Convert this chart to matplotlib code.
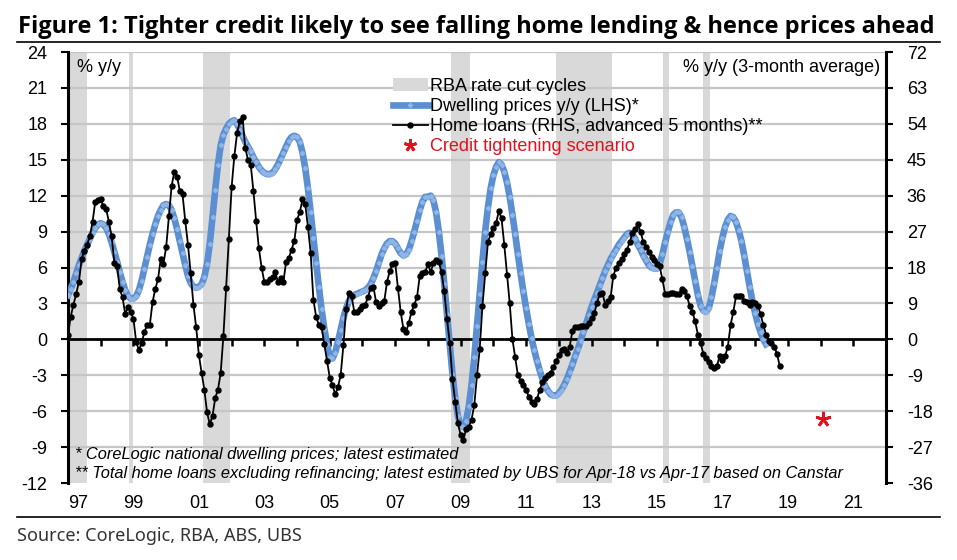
import numpy as np
import matplotlib.pyplot as plt
from matplotlib.lines import Line2D
from matplotlib.patches import Patch

plt.rcParams['font.family'] = ['Liberation Sans', 'DejaVu Sans']
plt.rcParams['axes.unicode_minus'] = False

# CoreLogic dwelling prices, % y/y, monthly from Jan-97 to May-18 (LHS)
dwelling = [
    3.7, 4.2, 4.8, 5.5, 6.2, 6.8, 7.4, 7.9, 8.4, 8.9, 9.3, 9.6,          # 1997
    9.7, 9.6, 9.3, 8.8, 8.1, 7.3, 6.5, 5.6, 4.8, 4.1, 3.6, 3.4,          # 1998
    3.4, 3.6, 4.1, 4.9, 5.9, 6.9, 7.9, 8.8, 9.6, 10.3, 10.8, 11.2,       # 1999
    11.3, 11.2, 10.8, 10.1, 9.2, 8.2, 7.2, 6.2, 5.3, 4.7, 4.4, 4.3,      # 2000
    4.4, 4.6, 5.2, 6.3, 8.0, 10.2, 12.5, 14.6, 16.2, 17.1, 17.6, 18.0,   # 2001
    18.2, 18.3, 18.0, 17.5, 17.0, 16.5, 16.1, 15.7, 15.2, 14.8, 14.4, 14.1,  # 2002
    13.9, 13.8, 13.8, 13.9, 14.2, 14.6, 15.1, 15.6, 16.1, 16.6, 16.9, 17.0,  # 2003
    16.9, 16.5, 15.6, 14.3, 12.6, 10.6, 8.5, 6.4, 4.4, 2.5, 0.9, -0.4,   # 2004
    -1.5, -1.6, -1.1, -0.2, 0.8, 1.8, 2.6, 3.2, 3.5, 3.7, 3.8, 3.9,      # 2005
    4.0, 4.1, 4.3, 4.6, 5.1, 5.7, 6.4, 7.1, 7.6, 8.0, 8.2, 8.2,          # 2006
    8.0, 7.6, 7.2, 7.0, 7.1, 7.5, 8.2, 9.0, 9.9, 10.8, 11.5, 11.9,       # 2007
    11.9, 12.0, 11.6, 10.6, 9.0, 7.0, 4.6, 2.1, -0.5, -2.9, -4.9, -6.4,  # 2008
    -7.2, -7.3, -6.8, -5.6, -3.8, -1.5, 1.1, 3.8, 6.5, 9.0, 11.0, 12.6,  # 2009
    13.7, 14.4, 14.8, 14.6, 14.0, 13.1, 11.9, 10.4, 8.8, 7.1, 5.5, 4.0,  # 2010
    2.6, 1.3, 0.1, -0.9, -1.8, -2.6, -3.3, -3.9, -4.3, -4.6, -4.7, -4.7,  # 2011
    -4.5, -4.2, -3.8, -3.3, -2.7, -2.1, -1.4, -0.8, -0.1, 0.6, 1.3, 2.0,  # 2012
    2.7, 3.3, 3.9, 4.5, 5.1, 5.7, 6.2, 6.7, 7.1, 7.5, 7.9, 8.2,          # 2013
    8.5, 8.8, 8.9, 8.8, 8.4, 7.9, 7.5, 7.0, 6.6, 6.2, 6.0, 5.9,          # 2014
    5.9, 6.3, 7.1, 8.1, 9.0, 9.8, 10.4, 10.6, 10.6, 10.2, 9.4, 8.4,      # 2015
    7.3, 6.1, 4.9, 3.7, 2.8, 2.4, 2.3, 2.6, 3.5, 4.7, 6.0, 7.4,          # 2016
    8.5, 9.4, 10.0, 10.3, 10.2, 9.8, 9.1, 8.2, 7.0, 5.7, 4.4, 3.2,       # 2017
    2.2, 1.3, 0.6, 0.0, -0.4,                                            # 2018
]

# home loans ex refinancing, % y/y 3mma, advanced 5 months, monthly from Jan-97 (RHS)
loans = [
    1.2, 5.7, 8.7, 11.4, 14.4, 20.1, 22.2, 23.7, 25.8, 29.4, 34.5, 34.8,       # 1997
    35.1, 33.3, 32.7, 29.4, 25.8, 19.2, 18.3, 12.6, 10.5, 6.3, 8.1, 6.9,       # 1998
    5.1, -0.6, -2.7, -0.9, 1.8, 3.6, 3.6, 9.3, 12.6, 15.0, 20.1, 18.9,         # 1999
    23.1, 30.9, 38.4, 42.0, 40.8, 37.2, 36.3, 29.7, 23.7, 16.5, 8.7, 3.0,      # 2000
    -3.9, -8.4, -12.6, -18.3, -21.3, -19.2, -14.7, -12.6, -8.4, 0.9, 12.9, 25.2,  # 2001
    38.1, 45.9, 51.6, 54.6, 55.8, 48.0, 45.0, 43.8, 37.2, 29.7, 22.8, 18.0,    # 2002
    14.4, 14.4, 15.0, 15.6, 16.8, 14.4, 15.3, 14.4, 19.5, 20.4, 22.5, 24.6,    # 2003
    30.0, 31.8, 35.1, 33.9, 28.2, 21.6, 9.9, 5.7, 3.6, 3.0, -1.2, -5.4,        # 2004
    -9.6, -11.4, -13.8, -12.0, -9.0, -1.5, 7.5, 11.7, 10.8, 6.9, 6.9, 7.5,     # 2005
    8.4, 8.7, 10.5, 12.9, 13.2, 9.3, 8.4, 9.0, 9.6, 14.4, 17.1, 18.9,          # 2006
    19.2, 12.9, 6.9, 2.7, 1.8, 4.2, 6.9, 8.7, 10.5, 15.9, 16.5, 16.8,          # 2007
    18.9, 16.8, 19.2, 19.8, 19.5, 16.8, 12.0, 5.1, -0.9, -9.9, -15.6, -21.0,   # 2008
    -24.0, -25.2, -22.5, -21.9, -20.1, -16.5, -9.0, -2.4, 8.4, 16.5, 24.3, 26.4,  # 2009
    27.9, 29.1, 32.1, 30.3, 23.7, 16.2, 9.0, 0.0, -4.5, -9.0, -10.5, -11.4,    # 2010
    -12.6, -14.4, -15.6, -16.2, -15.0, -12.6, -10.8, -9.6, -9.0, -8.4, -6.9, -5.4,  # 2011
    -3.9, -2.7, -2.4, -3.3, -1.8, 2.1, 3.0, 3.0, 3.3, 3.3, 3.3, 4.2,           # 2012
    5.4, 6.6, 9.0, 11.4, 11.7, 8.7, 9.6, 10.5, 15.9, 18.0, 19.2, 20.1,         # 2013
    21.3, 22.5, 24.3, 26.7, 27.6, 28.8, 27.0, 24.3, 23.1, 21.9, 20.7, 19.8,    # 2014
    18.9, 18.3, 15.0, 11.4, 11.4, 11.7, 11.7, 11.4, 11.4, 12.6, 12.0, 10.8,    # 2015
    8.4, 6.9, 4.5, 1.2, -0.9, -3.6, -4.8, -5.7, -6.6, -7.2, -6.6, -4.2,        # 2016
    -5.1, -4.2, -1.8, 3.6, 6.9, 10.8, 10.8, 10.8, 9.6, 9.3, 8.7, 9.3,          # 2017
    9.0, 8.4, 6.3, 3.6, 1.2, -0.3, -0.9, -1.8, -3.6, -6.6,                     # 2018
]

# RBA rate cut cycles (start, end), decimal years
rba_cuts = [(1996.5, 1997.58), (1998.86, 1998.98), (2001.13, 2001.95),
            (2008.72, 2009.30), (2011.92, 2013.64), (2015.17, 2015.38),
            (2016.42, 2016.63)]

# credit tightening scenario for home loans (RHS)
scenario_x = 2020.08
scenario_y = -20.0

lhs_ticks = np.arange(-12, 25, 3)
rhs_ticks = np.arange(-36, 73, 9)
year_ticks = np.arange(1997, 2023)
label_years = np.arange(1997, 2022, 2)

t_dw = 1997 + np.arange(len(dwelling)) / 12
t_ln = 1997 + np.arange(len(loans)) / 12

blue = '#5b8fd1'
grey_band = '#d9d9d9'
red = '#e3101e'

fig = plt.figure(figsize=(9.57, 5.6), dpi=100)
ax = fig.add_axes([68 / 957, 1 - 483 / 560, 818 / 957, 431 / 560])
ax2 = ax.twinx()

# shaded cut cycles and grid
for a, b in rba_cuts:
    ax.axvspan(a, b, color=grey_band, lw=0, zorder=0.5)
for v in lhs_ticks:
    if v not in (0, -12):
        ax.axhline(v, color='#c6c6c6', lw=1.6, zorder=0.8)

ax.plot(t_dw, dwelling, color=blue, lw=4.8, marker='D', ms=2.2,
        mfc='#8fb5e6', mec='#8fb5e6', zorder=3)
ax2.plot(t_ln, loans, color='black', lw=1.3, marker='o', ms=3.6, zorder=3)
ax2.plot(scenario_x, scenario_y, ls='none', marker=(5, 2, 0), ms=11,
         mew=2, mec=red, zorder=4)

ax.set_xlim(1997, 2022)
ax.set_ylim(-12, 24)
ax2.set_ylim(-36, 72)

# zero line carries the year ticks
ax.spines['bottom'].set_position(('data', 0))
ax.spines['bottom'].set_linewidth(2)
ax.spines['bottom'].set_zorder(2.6)
ax.set_xticks(year_ticks)
ax.tick_params(axis='x', direction='out', length=5, width=1.8, labelbottom=False)

sec = ax.secondary_xaxis('bottom')
sec.spines['bottom'].set_visible(False)
sec.set_xticks(label_years, labels=[f'{y % 100:02d}' for y in label_years])
sec.tick_params(length=0, pad=9, labelsize=13)
sec.get_xticklabels()[0].set_ha('left')

ax.set_yticks(lhs_ticks)
ax.tick_params(axis='y', direction='out', length=5, width=1.5, pad=10, labelsize=13)
ax2.set_yticks(rhs_ticks)
ax2.tick_params(axis='y', direction='out', length=5, width=1.5, pad=10, labelsize=13)

for s in ['top', 'right']:
    ax.spines[s].set_visible(False)
for s in ['top', 'bottom', 'left']:
    ax2.spines[s].set_visible(False)
ax.spines['left'].set_linewidth(2.2)
ax2.spines['right'].set_linewidth(2.2)

ax.text(0.011, 0.963, '% y/y', transform=ax.transAxes, va='center', fontsize=13)
ax.text(0.993, 0.965, '% y/y (3-month average)', transform=ax.transAxes,
        va='center', ha='right', fontsize=13)

ax.text(0.009, 0.065, '* CoreLogic national dwelling prices; latest estimated',
        transform=ax.transAxes, va='center', fontsize=11.8, style='italic')
ax.text(0.009, 0.023, '** Total home loans excluding refinancing; latest estimated '
        'by UBS for Apr-18 vs Apr-17 based on Canstar',
        transform=ax.transAxes, va='center', fontsize=11.8, style='italic')

handles = [
    Patch(facecolor=grey_band, edgecolor='none'),
    Line2D([], [], color=blue, lw=4.8, marker='D', ms=2.2, mfc='#8fb5e6', mec='#8fb5e6'),
    Line2D([], [], color='black', lw=1.3, marker='o', ms=3.6),
    Line2D([], [], ls='none', marker=(5, 2, 0), ms=9, mew=2, mec=red),
]
labels = ['RBA rate cut cycles', 'Dwelling prices y/y (LHS)*',
          'Home loans (RHS, advanced 5 months)**', 'Credit tightening scenario']
leg = ax2.legend(handles, labels, loc='upper left', bbox_to_anchor=(0.397, 0.94),
                 frameon=False, fontsize=13, handlelength=1.95, handletextpad=0.12,
                 labelspacing=0.17, borderpad=0, borderaxespad=0)
leg.get_texts()[3].set_color(red)

fig.text(18 / 957, 1 - 33 / 560,
         'Figure 1: Tighter credit likely to see falling home lending & hence prices ahead',
         fontsize=17, fontweight='bold', family=['Open Sans', 'Lato', 'DejaVu Sans'],
         va='baseline')
fig.add_artist(Line2D([17 / 957, 940 / 957], [1 - 42 / 560] * 2, color='black', lw=1.2))
fig.add_artist(Line2D([17 / 957, 940 / 957], [1 - 517 / 560] * 2, color='black', lw=1.2))
fig.text(17 / 957, 1 - 541 / 560, 'Source: CoreLogic, RBA, ABS, UBS', fontsize=13,
         color='#333333', family=['Noto Sans', 'DejaVu Sans'], va='baseline')

fig.savefig('out.png', dpi=100, facecolor='white')
